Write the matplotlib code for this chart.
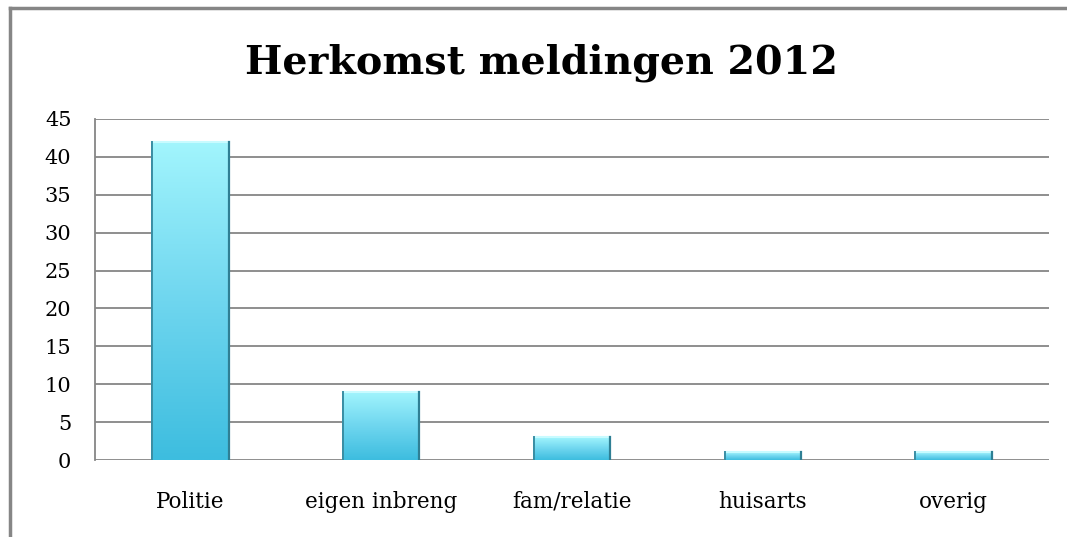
import numpy as np
import matplotlib.pyplot as plt
from matplotlib.colors import LinearSegmentedColormap
from matplotlib.lines import Line2D

categories = ["Politie", "eigen inbreng", "fam/relatie", "huisarts", "overig"]
values = [42, 9, 3, 1, 1]
yticks = [0, 5, 10, 15, 20, 25, 30, 35, 40, 45]

plt.rcParams['font.family'] = ['DejaVu Serif']

fig = plt.figure(figsize=(10.67, 5.37), dpi=100)
ax = fig.add_axes([95 / 1067, 1 - 460 / 537, (1049 - 95) / 1067, (460 - 119) / 537])

x = np.arange(len(categories))
w = 0.4
cmap = LinearSegmentedColormap.from_list("bar", ["#3dbddf", "#6fd6ef", "#a2f5fd"])
grad = np.linspace(0, 1, 256).reshape(-1, 1)

bars = ax.bar(x, values, width=w, color="#5ccbe8", edgecolor="#3a8ea4", linewidth=1.4, zorder=3)
for b in bars:
    x0, y0 = b.get_x(), b.get_y()
    im = ax.imshow(grad, cmap=cmap, origin="lower", aspect="auto",
                   extent=(x0, x0 + b.get_width(), y0, y0 + b.get_height()), zorder=3.5)
    im.set_clip_path(b)
    # light top bevel, darker sides
    ax.add_line(Line2D([x0, x0 + b.get_width()], [b.get_height(), b.get_height()],
                       color="#c8fbff", lw=1.5, zorder=4))
    ax.add_line(Line2D([x0, x0], [0, b.get_height()], color="#3a8ea4", lw=1.4, zorder=4))
    ax.add_line(Line2D([x0 + b.get_width()] * 2, [0, b.get_height()], color="#2f7f94", lw=1.6, zorder=4))
ax.set_xlim(-0.5, len(categories) - 0.5)
ax.set_ylim(0, 45)

ax.set_yticks(yticks)
ax.grid(axis="y", color="#868686", linewidth=1.3, zorder=0)
ax.set_axisbelow(True)
for s in ["top", "right", "bottom"]:
    ax.spines[s].set_visible(False)
ax.spines["left"].set_color("#868686")
ax.spines["left"].set_linewidth(1.3)
ax.tick_params(axis="y", length=0, pad=17, labelsize=15)
ax.tick_params(axis="x", length=0, pad=22, labelsize=15.5)
ax.set_xticks(x)
ax.set_xticklabels(categories)

fig.text(0.507, 1 - 63 / 537, "Herkomst meldingen 2012", ha="center", va="center",
         fontsize=28.5, fontweight="bold")

# outer chart frame (left and top)
fig.add_artist(Line2D([10 / 1067, 10 / 1067], [0, 1 - 8 / 537], color="#868686", lw=2.5,
                      transform=fig.transFigure))
fig.add_artist(Line2D([10 / 1067, 1], [1 - 8 / 537, 1 - 8 / 537], color="#868686", lw=2.5,
                      transform=fig.transFigure))

fig.savefig("out.png", dpi=100)
